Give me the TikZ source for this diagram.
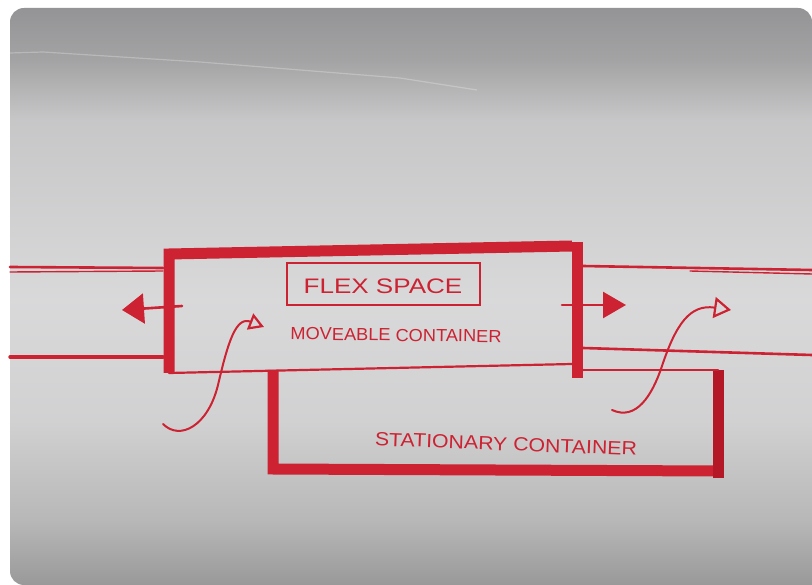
\documentclass[tikz,border=0pt]{standalone}
\usepackage{fontspec}
\setmainfont{Liberation Sans}
\usetikzlibrary{arrows.meta}
\definecolor{marker}{RGB}{204,34,50}
\definecolor{markerdk}{RGB}{180,24,38}
\pgfdeclareverticalshading{papershade}{100bp}{%
  rgb(0bp)=(0.60,0.60,0.60);
  rgb(25bp)=(0.60,0.60,0.60);
  rgb(30.6bp)=(0.72,0.72,0.72);
  rgb(39.3bp)=(0.82,0.82,0.825);
  rgb(49.7bp)=(0.85,0.85,0.855);
  rgb(65.3bp)=(0.78,0.78,0.785);
  rgb(70.5bp)=(0.64,0.64,0.645);
  rgb(75bp)=(0.58,0.58,0.588);
  rgb(100bp)=(0.58,0.58,0.588)}
\begin{document}
\begin{tikzpicture}[x=1pt,y=-1pt,
  thickedge/.style={draw=marker, line width=11pt, line join=miter},
  thinedge/.style={draw=marker, line width=2.6pt, line cap=round},
  fineedge/.style={draw=marker, line width=1.4pt, line cap=round},
  sketchtext/.style={text=marker, inner sep=0pt}]
\useasboundingbox (0,0) rectangle (812,585);
\fill[white] (0,0) rectangle (812,585);
% photo of the paper
\begin{scope}[y=1pt]
\shade[shading=papershade, rounded corners=14pt]
  (812,-585) -- (10,-585) -- (10,-8) -- (812,-8) -- (812,-585);
\end{scope}
% faint paper fold
\draw[white, line width=1.2pt, opacity=0.25] (10,53) -- (43,52) -- (200,62) -- (400,78) -- (477,90);

% left channel
\draw[thinedge] (10,267) -- (163,268);
\draw[fineedge] (10,272) -- (163,271);
\draw[thinedge, line width=3.4pt] (10,357) -- (163,357);
% right channel
\draw[thinedge] (583,266) -- (812,270);
\draw[fineedge] (690,271) -- (812,274);
\draw[thinedge] (583,348) -- (812,355);

% moveable container
\coordinate (mvbl) at (169,373);
\coordinate (mvtl) at (169,254);
\coordinate (mvtr) at (572,246);
\coordinate (mvbr) at (572,364);
\draw[thickedge] (mvbl) -- (mvtl) -- (mvtr);
\draw[thickedge] (577,242) -- (577,378);
\draw[thinedge, line width=2.2pt] (mvbl) -- (mvbr);

% stationary container
\coordinate (sttl) at (273,370);
\coordinate (stbl) at (273,469);
\coordinate (stbr) at (718,471);
\coordinate (sttr) at (718,370);
\draw[thickedge] (sttl) -- (stbl) -- (stbr);
\draw[thickedge, draw=markerdk] (stbr) ++(0,7) -- (sttr);
\draw[thinedge, line width=2.2pt] (583,370) -- (sttr);

% flex space label box
\node[sketchtext, draw=marker, line width=2pt, minimum width=193pt, minimum height=42pt] (flexbox) at (383,284) {};
\node[sketchtext, font=\fontsize{21}{21}\selectfont] (flex) at (383,286) {\scalebox{1.24}[1]{FLEX SPACE}};
\node[sketchtext, font=\fontsize{17.5}{18}\selectfont, rotate=-0.8] (moveable) at (396,335) {\scalebox{1.04}[1]{MOVEABLE CONTAINER}};
\node[sketchtext, font=\fontsize{19}{19}\selectfont, rotate=-2.2] (stationary) at (506,444) {\scalebox{1.12}[1]{STATIONARY CONTAINER}};

% filled arrows
\coordinate (la0) at (182,306);
\coordinate (la1) at (122,310);
\draw[thinedge, -{Triangle[length=22pt,width=30pt]}] (la0) -- (la1);
\coordinate (ra0) at (562,305);
\coordinate (ra1) at (626,305);
\draw[thinedge, -{Triangle[length=23pt,width=26pt]}] (ra0) -- (ra1);

% open curved arrows
\coordinate (lc0) at (163,424);
\coordinate (lc1) at (218,385);
\coordinate (lc2) at (264,327);
\draw[thinedge, line width=2pt, -{Triangle[open, length=15pt, width=17pt, line width=2.2pt]}]
  (lc0) .. controls (180,441) and (208,426) .. (lc1) .. controls (228,342) and (236,316) .. (lc2);
\coordinate (rc0) at (612,410);
\coordinate (rc1) at (662,366);
\coordinate (rc2) at (731,310);
\draw[thinedge, line width=2pt, -{Triangle[open, length=17pt, width=21pt, line width=2.2pt]}]
  (rc0) .. controls (636,421) and (652,396) .. (rc1) .. controls (676,324) and (690,304) .. (rc2);
\end{tikzpicture}
\end{document}
